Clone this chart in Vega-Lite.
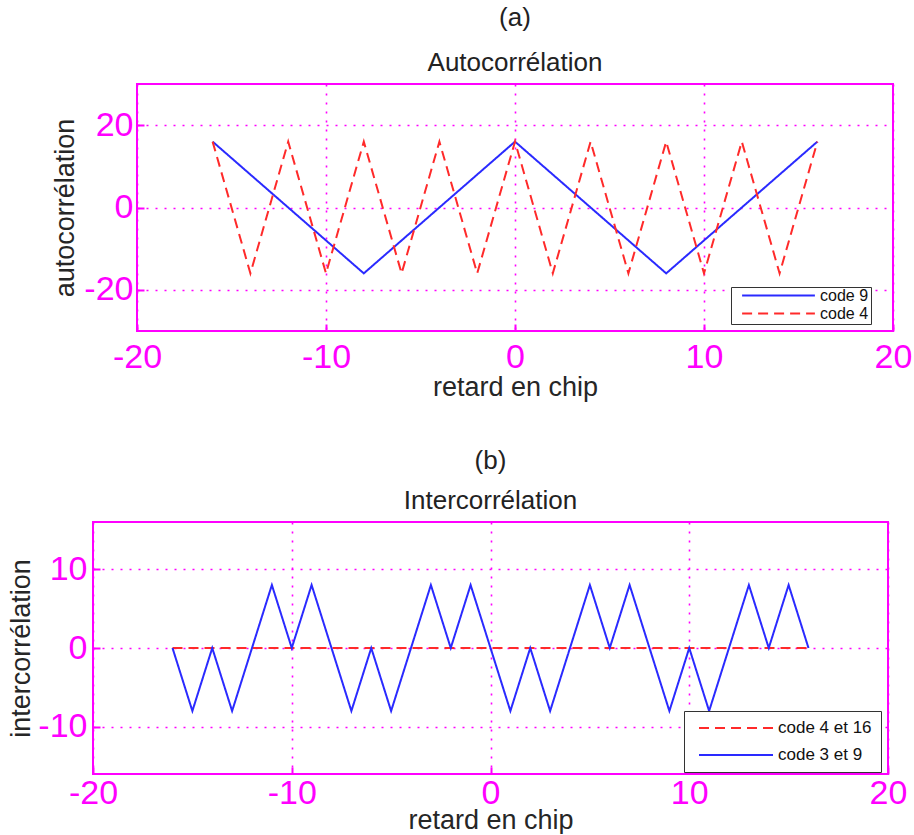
{
  "$schema": "https://vega.github.io/schema/vega-lite/v6.json",
  "padding": {"left": 6, "top": 4, "right": 2, "bottom": 0},
  "background": "white",
  "config": {
    "font": "Liberation Sans",
    "view": {"stroke": "#ff00ff", "strokeWidth": 2},
    "axis": {
      "labelFont": "Liberation Sans",
      "labelColor": "#ff00ff",
      "labelFontSize": 34,
      "labelFlush": false,
      "labelOverlap": false,
      "labelExpr": "'' + datum.value",
      "titleFont": "Liberation Sans",
      "titleFontSize": 27,
      "titleFontWeight": "normal",
      "titleColor": "#262626",
      "domain": false,
      "grid": true,
      "gridColor": "#ff00ff",
      "gridDash": [2, 7],
      "gridWidth": 1.6,
      "gridOpacity": 1,
      "tickColor": "#ff00ff",
      "tickWidth": 2,
      "tickSize": -7
    },
    "legend": {
      "title": null,
      "orient": "none",
      "fillColor": "white",
      "strokeColor": "#333333",
      "labelFont": "Liberation Sans",
      "labelColor": "#111111",
      "symbolType": "stroke",
      "symbolStrokeWidth": 2,
      "labelOffset": 4
    }
  },
  "datasets": {
    "auto": [
      {"code": "code 9", "lag": -16, "value": 16},
      {"code": "code 9", "lag": -8, "value": -16},
      {"code": "code 9", "lag": 0, "value": 16},
      {"code": "code 9", "lag": 8, "value": -16},
      {"code": "code 9", "lag": 16, "value": 16},
      {"code": "code 4", "lag": -16, "value": 16},
      {"code": "code 4", "lag": -14, "value": -16},
      {"code": "code 4", "lag": -12, "value": 16},
      {"code": "code 4", "lag": -10, "value": -16},
      {"code": "code 4", "lag": -8, "value": 16},
      {"code": "code 4", "lag": -6, "value": -16},
      {"code": "code 4", "lag": -4, "value": 16},
      {"code": "code 4", "lag": -2, "value": -16},
      {"code": "code 4", "lag": 0, "value": 16},
      {"code": "code 4", "lag": 2, "value": -16},
      {"code": "code 4", "lag": 4, "value": 16},
      {"code": "code 4", "lag": 6, "value": -16},
      {"code": "code 4", "lag": 8, "value": 16},
      {"code": "code 4", "lag": 10, "value": -16},
      {"code": "code 4", "lag": 12, "value": 16},
      {"code": "code 4", "lag": 14, "value": -16},
      {"code": "code 4", "lag": 16, "value": 16}
    ],
    "inter": [
      {"code": "code 4 et 16", "lag": -16, "value": 0},
      {"code": "code 4 et 16", "lag": 16, "value": 0},
      {"code": "code 3 et 9", "lag": -16, "value": 0},
      {"code": "code 3 et 9", "lag": -15, "value": -8},
      {"code": "code 3 et 9", "lag": -14, "value": 0},
      {"code": "code 3 et 9", "lag": -13, "value": -8},
      {"code": "code 3 et 9", "lag": -11, "value": 8},
      {"code": "code 3 et 9", "lag": -10, "value": 0},
      {"code": "code 3 et 9", "lag": -9, "value": 8},
      {"code": "code 3 et 9", "lag": -7, "value": -8},
      {"code": "code 3 et 9", "lag": -6, "value": 0},
      {"code": "code 3 et 9", "lag": -5, "value": -8},
      {"code": "code 3 et 9", "lag": -3, "value": 8},
      {"code": "code 3 et 9", "lag": -2, "value": 0},
      {"code": "code 3 et 9", "lag": -1, "value": 8},
      {"code": "code 3 et 9", "lag": 1, "value": -8},
      {"code": "code 3 et 9", "lag": 2, "value": 0},
      {"code": "code 3 et 9", "lag": 3, "value": -8},
      {"code": "code 3 et 9", "lag": 5, "value": 8},
      {"code": "code 3 et 9", "lag": 6, "value": 0},
      {"code": "code 3 et 9", "lag": 7, "value": 8},
      {"code": "code 3 et 9", "lag": 9, "value": -8},
      {"code": "code 3 et 9", "lag": 10, "value": 0},
      {"code": "code 3 et 9", "lag": 11, "value": -8},
      {"code": "code 3 et 9", "lag": 13, "value": 8},
      {"code": "code 3 et 9", "lag": 14, "value": 0},
      {"code": "code 3 et 9", "lag": 15, "value": 8},
      {"code": "code 3 et 9", "lag": 16, "value": 0}
    ]
  },
  "spacing": 46,
  "resolve": {
    "scale": {"x": "independent", "y": "independent", "color": "independent", "strokeDash": "independent"},
    "legend": {"color": "independent", "strokeDash": "independent"}
  },
  "vconcat": [
    {
      "bounds": "flush",
      "spacing": 0,
      "resolve": {
        "scale": {"x": "independent", "y": "independent", "color": "independent", "strokeDash": "independent"},
        "legend": {"color": "independent", "strokeDash": "independent"}
      },
      "hconcat": [
        {
          "width": 44,
          "height": 10,
          "view": {"stroke": null},
          "data": {"values": [{}]},
          "mark": {"type": "point", "opacity": 0}
        },
        {
          "width": 756,
          "height": 247,
          "title": {
            "text": "(a)",
            "subtitle": "Autocorrélation",
            "fontSize": 26,
            "subtitleFontSize": 26,
            "fontWeight": "normal",
            "font": "Liberation Sans",
            "subtitleFont": "Liberation Sans",
            "color": "#222222",
            "subtitleColor": "#222222",
            "subtitlePadding": 19,
            "offset": 8,
            "anchor": "middle"
          },
          "data": {"name": "auto"},
          "mark": {"type": "line", "strokeWidth": 2},
          "encoding": {
            "x": {
              "field": "lag",
              "type": "quantitative",
              "scale": {"domain": [-20, 20], "nice": false},
              "axis": {"values": [-20, -10, 0, 10, 20], "title": "retard en chip", "labelPadding": 16, "titlePadding": 0}
            },
            "y": {
              "field": "value",
              "type": "quantitative",
              "scale": {"domain": [-30, 30], "nice": false},
              "axis": {"values": [-20, 0, 20], "title": "autocorrélation", "labelPadding": 11, "titlePadding": 4}
            },
            "color": {
              "field": "code",
              "type": "nominal",
              "scale": {"domain": ["code 9", "code 4"], "range": ["#2a2aff", "#ff2a2a"]},
              "legend": {"labelFontSize": 16, "symbolSize": 5300, "clipHeight": 13, "rowPadding": 1, "padding": 2, "symbolOffset": 8, "legendX": 594, "legendY": 203}
            },
            "strokeDash": {
              "field": "code",
              "type": "nominal",
              "scale": {"domain": ["code 9", "code 4"], "range": [[1, 0], [10, 6]]},
              "legend": {"labelFontSize": 16, "symbolSize": 5300, "clipHeight": 13, "rowPadding": 1, "padding": 2, "symbolOffset": 8, "legendX": 594, "legendY": 203}
            }
          }
        }
      ]
    },
    {
      "width": 795,
      "height": 252,
      "title": {
        "text": "(b)",
        "subtitle": "Intercorrélation",
        "fontSize": 26,
        "subtitleFontSize": 26,
        "fontWeight": "normal",
        "font": "Liberation Sans",
        "subtitleFont": "Liberation Sans",
        "color": "#222222",
        "subtitleColor": "#222222",
        "subtitlePadding": 14,
        "offset": 8,
        "anchor": "middle"
      },
      "data": {"name": "inter"},
      "mark": {"type": "line", "strokeWidth": 2},
      "encoding": {
        "x": {
          "field": "lag",
          "type": "quantitative",
          "scale": {"domain": [-20, 20], "nice": false},
          "axis": {"values": [-20, -10, 0, 10, 20], "title": "retard en chip", "labelPadding": 9, "titlePadding": -3}
        },
        "y": {
          "field": "value",
          "type": "quantitative",
          "scale": {"domain": [-16, 16], "nice": false},
          "axis": {"values": [-10, 0, 10], "title": "intercorrélation", "labelPadding": 13, "titlePadding": 2}
        },
        "color": {
          "field": "code",
          "type": "nominal",
          "scale": {"domain": ["code 4 et 16", "code 3 et 9"], "range": ["#ff2a2a", "#2a2aff"]},
          "legend": {"labelFontSize": 17, "symbolSize": 5476, "clipHeight": 16, "rowPadding": 10, "padding": 9, "symbolOffset": 5, "legendX": 591, "legendY": 189}
        },
        "strokeDash": {
          "field": "code",
          "type": "nominal",
          "scale": {"domain": ["code 4 et 16", "code 3 et 9"], "range": [[10, 6], [1, 0]]},
          "legend": {"labelFontSize": 17, "symbolSize": 5476, "clipHeight": 16, "rowPadding": 10, "padding": 9, "symbolOffset": 5, "legendX": 591, "legendY": 189}
        }
      }
    }
  ]
}
